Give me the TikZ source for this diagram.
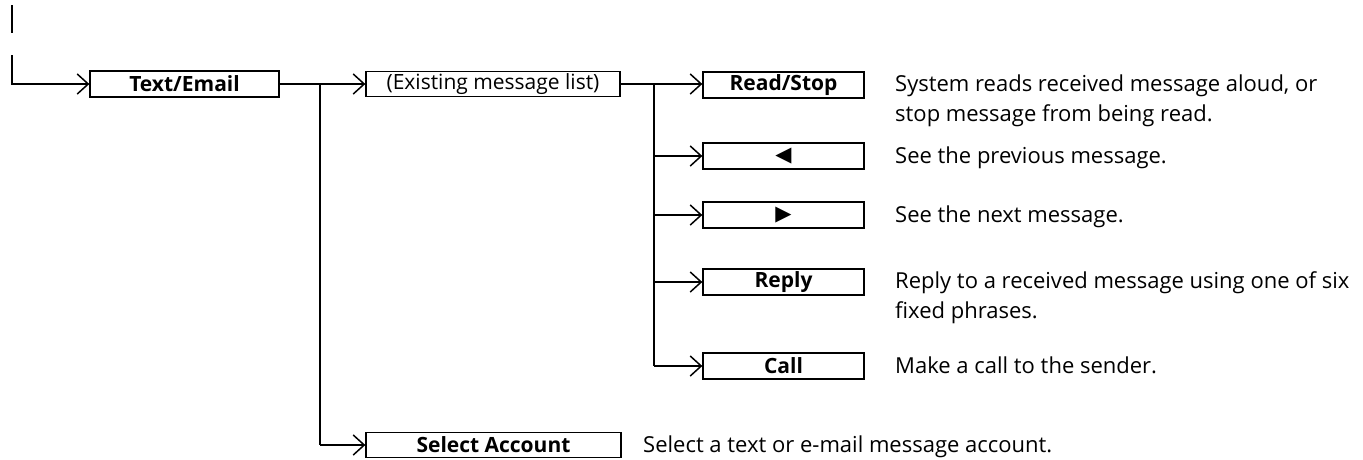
\documentclass[tikz,border=0pt]{standalone}
\usepackage{fontspec}
\setmainfont{Open Sans}
\newfontfamily\symfont{DejaVu Sans}
\usetikzlibrary{arrows.meta}
\begin{document}
\begin{tikzpicture}[x=1pt,y=-1pt,
  conn/.style={line width=2pt},
  arr/.style={conn,-{Straight Barb[length=11pt,width=20pt,line width=1.5pt]}},
  menubox/.style={draw,line width=1.3pt,inner sep=0pt,font=\fontsize{21}{24}\selectfont\bfseries},
  symbox/.style={menubox,font=\fontsize{21}{24}\selectfont\symfont},
  desc/.style={anchor=base west,align=left,inner sep=0pt,font=\fontsize{22}{30}\selectfont}]
\useasboundingbox (0,0) rectangle (1363,459);
% stray line at top left
\coordinate (t1) at (12,5);
\coordinate (t2) at (12,33);
\draw[conn] (t1) -- (t2);
\coordinate (s) at (12,55);
\coordinate (sc) at (12,84);
% boxes
\node[menubox,minimum width=189,minimum height=26] (te) at (184.5,84) {Text/Email};
\node[menubox,minimum width=254,minimum height=25,font=\fontsize{21}{24}\selectfont] (eml) at (493,84) {(Existing message list)};
\node[menubox,minimum width=255,minimum height=25] (sa) at (493.5,445) {Select Account};
\node[menubox,minimum width=161,minimum height=26] (rs) at (783.5,85) {Read/Stop};
\node[symbox,minimum width=161,minimum height=26] (prev) at (783.5,156) {◀};
\node[symbox,minimum width=161,minimum height=26] (next) at (783.5,215) {▶};
\node[menubox,minimum width=161,minimum height=26] (rep) at (783.5,282) {Reply};
\node[menubox,minimum width=161,minimum height=26] (call) at (783.5,366) {Call};
% junctions
\coordinate (j1) at (320,84);
\coordinate (j1b) at (320,445);
\coordinate (j2) at (654,84);
\coordinate (j2b) at (654,366);
% connectors
\draw[arr] (s) -- (sc) -- (te.west);
\draw[conn] (te.east) -- (j1);
\draw[arr] (j1) -- (eml.west);
\draw[conn] (j1) -- (j1b);
\draw[arr] (j1b) -- (sa.west);
\draw[conn] (eml.east) -- (j2);
\draw[arr] (j2) -- (rs.west |- j2);
\draw[conn] (j2) -- (j2b);
\draw[arr] (j2 |- prev) -- (prev.west);
\draw[arr] (j2 |- next) -- (next.west);
\draw[arr] (j2 |- rep) -- (rep.west);
\draw[arr] (j2b) -- (call.west);
% descriptions
\node[desc] (d1) at (895,121) {System reads received message aloud, or\\stop message from being read.};
\node[desc] (d2) at (895,163) {See the previous message.};
\node[desc] (d3) at (895,222) {See the next message.};
\node[desc] (d4) at (895,318) {Reply to a received message using one of six\\fixed phrases.};
\node[desc] (d5) at (895,373) {Make a call to the sender.};
\node[desc] (d6) at (643,452) {Select a text or e-mail message account.};
\end{tikzpicture}
\end{document}
